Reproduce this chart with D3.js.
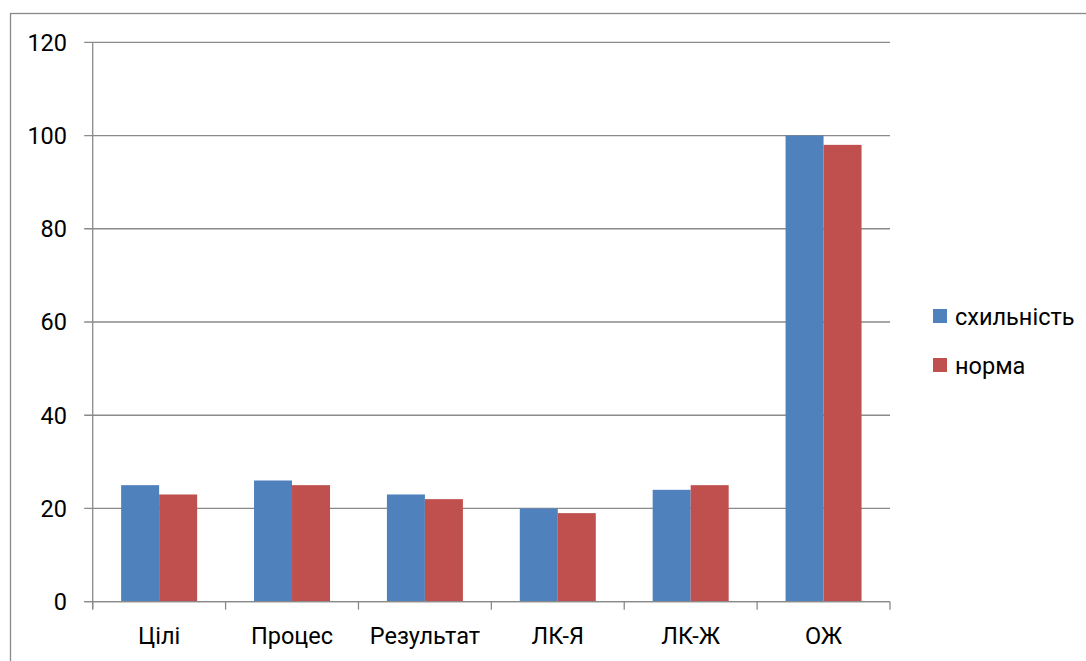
<!DOCTYPE html>
<html>
<head>
<meta charset="utf-8">
<script src="https://cdn.jsdelivr.net/npm/d3@7"></script>
<style>
  html, body { margin: 0; padding: 0; background: #fff; }
  svg text { font-family: Roboto, "Noto Sans", sans-serif; fill: #000; }
</style>
</head>
<body>
<svg id="chart" width="1086" height="661"></svg>
<script>
// Data
const categories = ["Цілі", "Процес", "Результат", "ЛК-Я", "ЛК-Ж", "ОЖ"];
const seriesNames = ["схильність", "норма"];
const schylnist = [25, 26, 23, 20, 24, 100];
const norma = [23, 25, 22, 19, 25, 98];
const yTicks = [0, 20, 40, 60, 80, 100, 120];

const colors = ["#4F81BD", "#C0504D"];
const seriesValues = [schylnist, norma];

const svg = d3.select("#chart");
const plot = { left: 92.7, right: 890, top: 42.3, bottom: 601.7 };
const fontSize = "23.5px";

// Outer chart frame
svg.append("rect")
  .attr("x", 10.5).attr("y", 13.5)
  .attr("width", 1200).attr("height", 800)
  .attr("fill", "none").attr("stroke", "#898989").attr("stroke-width", 1.3);

const x = d3.scaleBand().domain(categories).range([plot.left, plot.right]).padding(0);
const groupFrac = 0.572;
const x1 = d3.scaleBand().domain(seriesNames)
  .range([0, x.bandwidth() * groupFrac]).padding(0);
const y = d3.scaleLinear().domain([0, 120]).range([plot.bottom, plot.top]);

const gridColor = "#8a8a8a";

// Horizontal gridlines with left tick marks
svg.append("g").selectAll("line").data(yTicks).join("line")
  .attr("x1", plot.left - 8.5).attr("x2", plot.right)
  .attr("y1", d => y(d)).attr("y2", d => y(d))
  .attr("stroke", gridColor).attr("stroke-width", 1.3);

// Y axis line
svg.append("line")
  .attr("x1", plot.left).attr("x2", plot.left)
  .attr("y1", plot.top).attr("y2", plot.bottom + 7)
  .attr("stroke", gridColor).attr("stroke-width", 1.3);

// Y labels
svg.append("g").selectAll("text").data(yTicks).join("text")
  .attr("x", 67).attr("y", d => y(d))
  .attr("dy", "0.36em")
  .attr("text-anchor", "end")
  .style("font-size", fontSize)
  .text(d => d);

// Bars
const groups = svg.append("g").selectAll("g").data(categories).join("g")
  .attr("transform", c => `translate(${x(c) + x.bandwidth() * (1 - groupFrac) / 2},0)`);

groups.selectAll("rect")
  .data((c, i) => seriesNames.map((s, j) => ({ s, v: seriesValues[j][i], j })))
  .join("rect")
  .attr("x", d => x1(d.s))
  .attr("width", x1.bandwidth())
  .attr("y", d => y(d.v))
  .attr("height", d => y(0) - y(d.v))
  .attr("fill", d => colors[d.j]);

// X axis line and category ticks (drawn over bars)
svg.append("line")
  .attr("x1", plot.left - 8.5).attr("x2", plot.right)
  .attr("y1", plot.bottom).attr("y2", plot.bottom)
  .attr("stroke", gridColor).attr("stroke-width", 1.3);

const tickPos = categories.map(c => x(c)).concat([plot.right]);
svg.append("g").selectAll("line").data(tickPos).join("line")
  .attr("x1", d => d).attr("x2", d => d)
  .attr("y1", plot.bottom).attr("y2", plot.bottom + 8)
  .attr("stroke", gridColor).attr("stroke-width", 1.3);

// Category labels
svg.append("g").selectAll("text").data(categories).join("text")
  .attr("x", c => x(c) + x.bandwidth() / 2)
  .attr("y", 644)
  .attr("text-anchor", "middle")
  .style("font-size", fontSize)
  .text(c => c);

// Legend
const legend = svg.append("g").selectAll("g").data(seriesNames).join("g")
  .attr("transform", (d, i) => `translate(933, ${309 + i * 49})`);
legend.append("rect")
  .attr("width", 14).attr("height", 14)
  .attr("fill", (d, i) => colors[i]);
legend.append("text")
  .attr("x", 22).attr("y", 16)
  .style("font-size", fontSize)
  .text(d => d);
</script>
</body>
</html>
